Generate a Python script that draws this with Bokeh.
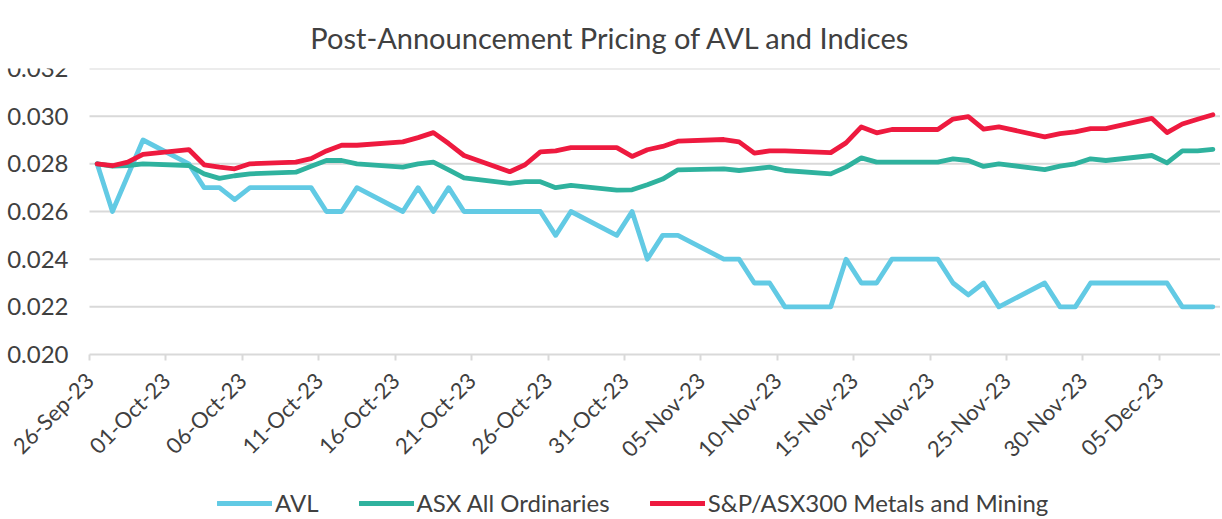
import math
import pandas as pd
from bokeh.plotting import figure
from bokeh.models import (FixedTicker, DatetimeTickFormatter, NumeralTickFormatter,
                          Legend, LegendItem, Range1d, ColumnDataSource)
from bokeh.embed import file_html
from bokeh.resources import INLINE

# ---------------- data ----------------
dates = [
    "2023-09-26", "2023-09-27", "2023-09-28", "2023-09-29",
    "2023-10-02", "2023-10-03", "2023-10-04", "2023-10-05", "2023-10-06",
    "2023-10-09", "2023-10-10", "2023-10-11", "2023-10-12", "2023-10-13",
    "2023-10-16", "2023-10-17", "2023-10-18", "2023-10-19", "2023-10-20",
    "2023-10-23", "2023-10-24", "2023-10-25", "2023-10-26", "2023-10-27",
    "2023-10-30", "2023-10-31", "2023-11-01", "2023-11-02", "2023-11-03",
    "2023-11-06", "2023-11-07", "2023-11-08", "2023-11-09", "2023-11-10",
    "2023-11-13", "2023-11-14", "2023-11-15", "2023-11-16", "2023-11-17",
    "2023-11-20", "2023-11-21", "2023-11-22", "2023-11-23", "2023-11-24",
    "2023-11-27", "2023-11-28", "2023-11-29", "2023-11-30", "2023-12-01",
    "2023-12-04", "2023-12-05", "2023-12-06", "2023-12-07", "2023-12-08",
]

avl = [
    0.0280, 0.0260, 0.0275, 0.0290,
    0.0280, 0.0270, 0.0270, 0.0265, 0.0270,
    0.0270, 0.0270, 0.0260, 0.0260, 0.0270,
    0.0260, 0.0270, 0.0260, 0.0270, 0.0260,
    0.0260, 0.0260, 0.0260, 0.0250, 0.0260,
    0.0250, 0.0260, 0.0240, 0.0250, 0.0250,
    0.0240, 0.0240, 0.0230, 0.0230, 0.0220,
    0.0220, 0.0240, 0.0230, 0.0230, 0.0240,
    0.0240, 0.0230, 0.0225, 0.0230, 0.0220,
    0.0230, 0.0220, 0.0220, 0.0230, 0.0230,
    0.0230, 0.0230, 0.0220, 0.0220, 0.0220,
]

asx_all_ords = [
    0.02800, 0.02790, 0.02793, 0.02800,
    0.02793, 0.02758, 0.02739, 0.02750, 0.02758,
    0.02765, 0.02790, 0.02814, 0.02814, 0.02800,
    0.02786, 0.02800, 0.02807, 0.02775, 0.02741,
    0.02718, 0.02725, 0.02725, 0.02700, 0.02710,
    0.02690, 0.02691, 0.02712, 0.02736, 0.02775,
    0.02779, 0.02772, 0.02779, 0.02786, 0.02772,
    0.02758, 0.02786, 0.02825, 0.02807, 0.02807,
    0.02807, 0.02821, 0.02814, 0.02789, 0.02800,
    0.02776, 0.02790, 0.02800, 0.02821, 0.02814,
    0.02835, 0.02804, 0.02854, 0.02854, 0.02861,
]

metals_mining = [
    0.02800, 0.02792, 0.02807, 0.02840,
    0.02860, 0.02796, 0.02786, 0.02779, 0.02800,
    0.02807, 0.02822, 0.02854, 0.02878, 0.02878,
    0.02892, 0.02910, 0.02931, 0.02885, 0.02835,
    0.02767, 0.02796, 0.02850, 0.02854, 0.02868,
    0.02868, 0.02831, 0.02859, 0.02873, 0.02895,
    0.02902, 0.02892, 0.02845, 0.02854, 0.02854,
    0.02847, 0.02888, 0.02955, 0.02930, 0.02944,
    0.02944, 0.02988, 0.02998, 0.02946, 0.02955,
    0.02913, 0.02927, 0.02934, 0.02948, 0.02948,
    0.02991, 0.02931, 0.02967, 0.02987, 0.03006,
]

tick_dates = [
    "2023-09-26", "2023-10-01", "2023-10-06", "2023-10-11", "2023-10-16",
    "2023-10-21", "2023-10-26", "2023-10-31", "2023-11-05", "2023-11-10",
    "2023-11-15", "2023-11-20", "2023-11-25", "2023-11-30", "2023-12-05",
]
y_ticks = [0.020, 0.022, 0.024, 0.026, 0.028, 0.030, 0.032]

series_names = ["AVL", "ASX All Ordinaries", "S&P/ASX300 Metals and Mining"]
series_colors = ["#62CAE4", "#2FB29E", "#EE1A3F"]
title_text = "Post-Announcement Pricing of AVL and Indices"

# ---------------- style / layout ----------------
FONT = "Lato"
TEXT = "#404040"
GRID = "#D9D9D9"

AXIS_LEFT = 89      # px from the left edge where the date axis starts
DATA_W = 1131       # px width of the dated area
FRAME_H = 449       # frame reaches down to the legend row
PLOT_H = 286        # px between the 0.032 and 0.020 gridlines

# points sit in the middle of their day slot (date axis)
x = pd.to_datetime(dates) + pd.Timedelta(hours=12)
src = ColumnDataSource(dict(x=x, avl=avl, asx=asx_all_ords, mm=metals_mining))

x_start = pd.Timestamp(dates[0])
x_end = pd.Timestamp(dates[-1]) + pd.Timedelta(days=1)
span_days = (x_end - x_start) / pd.Timedelta(days=1)
view_start = x_start - pd.Timedelta(days=AXIS_LEFT * span_days / DATA_W)

y_top = y_ticks[-1]
y_bottom = y_top - (y_ticks[-1] - y_ticks[0]) * FRAME_H / PLOT_H

p = figure(frame_width=AXIS_LEFT + DATA_W, frame_height=FRAME_H, x_axis_type="datetime",
           x_range=Range1d(view_start, x_end), y_range=Range1d(y_bottom, y_top),
           output_backend="svg", toolbar_location=None,
           min_border_left=0, min_border_right=0, min_border_top=68,
           min_border_bottom=0, title=title_text)

p.outline_line_color = None
p.background_fill_color = "white"
p.border_fill_color = "white"

p.title.text_font = FONT
p.title.text_font_size = "29px"
p.title.text_font_style = "normal"
p.title.text_color = TEXT
p.title.align = "center"
p.title.standoff = 28

# horizontal gridlines over the dated area only
x0_ms = x_start.value / 1e6
x1_ms = x_end.value / 1e6
p.segment(x0=[x0_ms] * len(y_ticks), y0=y_ticks, x1=[x1_ms] * len(y_ticks), y1=y_ticks,
          line_color=GRID, line_width=2)

# y axis, pinned at the start of the date axis
p.yaxis.fixed_location = x0_ms
p.yaxis.ticker = FixedTicker(ticks=y_ticks)
p.yaxis.formatter = NumeralTickFormatter(format="0.000")
p.yaxis.axis_line_color = None
p.yaxis.major_tick_line_color = None
p.yaxis.minor_tick_line_color = None
p.yaxis.major_label_text_font = FONT
p.yaxis.major_label_text_font_size = "24px"
p.yaxis.major_label_text_color = TEXT
p.yaxis.major_label_standoff = 15

# x axis, drawn on the 0.020 line
tick_ms = [pd.Timestamp(d).value / 1e6 for d in tick_dates]
p.xaxis.fixed_location = y_ticks[0]
p.xaxis.ticker = FixedTicker(ticks=tick_ms)
fmt = "%d-%b-%y"
p.xaxis.formatter = DatetimeTickFormatter(days=fmt, months=fmt, years=fmt, hours=fmt,
                                          hourmin=fmt, minutes=fmt, minsec=fmt,
                                          seconds=fmt, milliseconds=fmt, microseconds=fmt)
p.xaxis.major_label_orientation = math.pi / 4
p.xaxis.axis_line_color = None
p.xaxis.major_tick_line_color = GRID
p.xaxis.major_tick_line_width = 2
p.xaxis.major_tick_out = 6
p.xaxis.major_tick_in = 0
p.xaxis.minor_tick_line_color = None
p.xaxis.major_label_text_font = FONT
p.xaxis.major_label_text_font_size = "22px"
p.xaxis.major_label_text_color = TEXT
p.xaxis.major_label_standoff = 16

p.xgrid.grid_line_color = None
p.ygrid.grid_line_color = None

renderers = []
for col, color in zip(["avl", "asx", "mm"], series_colors):
    r = p.line("x", col, source=src, line_color=color, line_width=4.8,
               line_join="round", line_cap="round")
    renderers.append(r)

legend = Legend(items=[LegendItem(label=n, renderers=[r]) for n, r in zip(series_names, renderers)],
                orientation="horizontal", location=(217, 0),
                label_text_font=FONT, label_text_font_size="24px", label_text_color=TEXT,
                glyph_width=55, glyph_height=20, label_standoff=3, spacing=40,
                padding=0, margin=0, border_line_color=None, background_fill_alpha=0)
p.add_layout(legend)

open("out.html", "w").write(file_html(p, INLINE))
